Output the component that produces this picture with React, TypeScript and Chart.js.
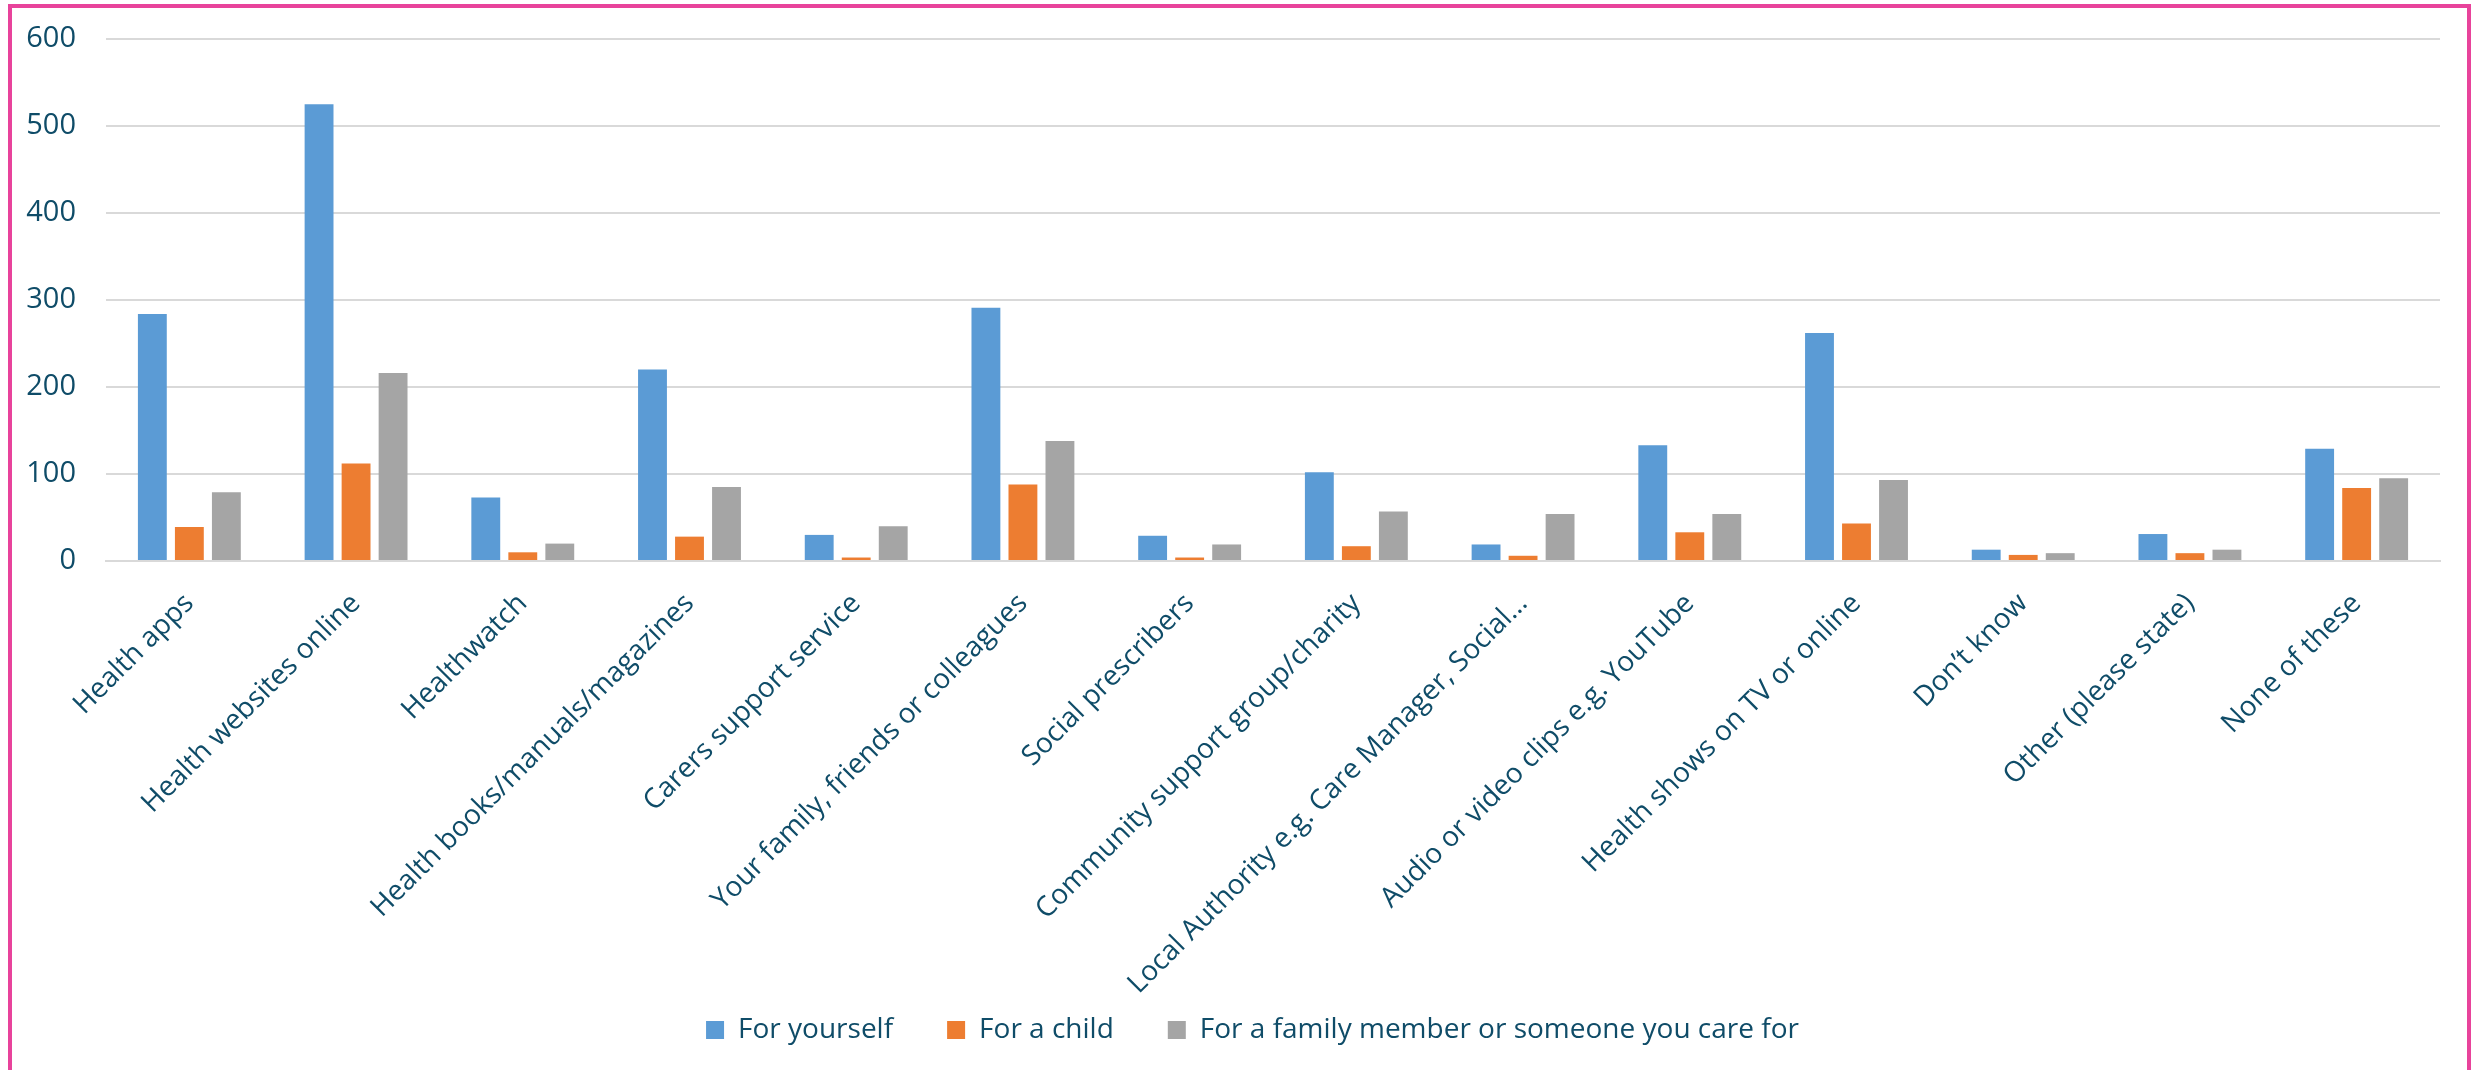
import React, { useEffect, useRef } from "react";
import { Chart, registerables } from "chart.js";

Chart.register(...registerables);

const categories = [
  "Health apps",
  "Health websites online",
  "Healthwatch",
  "Health books/manuals/magazines",
  "Carers support service",
  "Your family, friends or colleagues",
  "Social prescribers",
  "Community support group/charity",
  "Local Authority e.g. Care Manager, Social\u2026",
  "Audio or video clips e.g. YouTube",
  "Health shows on TV or online",
  "Don\u2019t know",
  "Other (please state)",
  "None of these",
];

const seriesNames = [
  "For yourself",
  "For a child",
  "For a family member or someone you care for",
];

const forYourself = [284, 525, 73, 220, 30, 291, 29, 102, 19, 133, 262, 13, 31, 129];
const forAChild = [39, 112, 10, 28, 4, 88, 4, 17, 6, 33, 43, 7, 9, 84];
const forFamilyMember = [79, 216, 20, 85, 40, 138, 19, 57, 54, 54, 93, 9, 13, 95];

const seriesColors = ["#5B9BD5", "#ED7D31", "#A5A5A5"];

const yMin = 0;
const yMax = 600;
const yStep = 100;

const TEXT = "#0f4c68";
const GRID = "#d9d9d9";

export default function App() {
  const ref = useRef<HTMLCanvasElement | null>(null);

  useEffect(() => {
    if (!ref.current) return;
    const chart = new Chart(ref.current, {
      type: "bar",
      data: {
        labels: categories,
        datasets: [forYourself, forAChild, forFamilyMember].map((d, i) => ({
          label: seriesNames[i],
          data: d,
          backgroundColor: seriesColors[i],
          categoryPercentage: 0.666,
          barPercentage: 0.78,
        })),
      },
      options: {
        animation: false,
        responsive: true,
        maintainAspectRatio: false,
        layout: { padding: { top: 39, right: 34, left: 65, bottom: 0 } },
        plugins: {
          tooltip: { enabled: false },
          legend: {
            position: "bottom",
            labels: {
              color: TEXT,
              font: { family: "'Open Sans', sans-serif", size: 28 },
              boxWidth: 18,
              boxHeight: 18,
              padding: 54,
            },
          },
        },
        scales: {
          x: {
            grid: { display: false, drawTicks: false },
            border: { display: true, color: GRID, width: 2 },
            ticks: {
              color: TEXT,
              font: { family: "'Open Sans', sans-serif", size: 28 },
              minRotation: 45,
              maxRotation: 45,
              autoSkip: false,
              padding: 26,
            },
            afterFit: (scale: any) => {
              scale.height = 401;
              scale._computeLabelArea = () => undefined;
            },
          },
          y: {
            min: yMin,
            max: yMax,
            grid: { color: GRID, lineWidth: 2, drawTicks: false },
            border: { display: false },
            ticks: {
              stepSize: yStep,
              color: TEXT,
              font: { family: "'Open Sans', sans-serif", size: 29 },
              padding: 30,
            },
            afterFit: (scale: any) => {
              scale.width = 41;
              scale.paddingTop = 0;
              scale.paddingBottom = 0;
              scale._computeLabelArea = () => undefined;
            },
          },
        },
      },
    });
    return () => chart.destroy();
  }, []);

  return (
    <>
      <div
        style={{
          position: "fixed",
          left: 8,
          top: 4,
          width: 2463,
          height: 1100,
          border: "4px solid #E8439B",
          boxSizing: "border-box",
        }}
      />
      <div style={{ position: "fixed", left: 0, top: 0, width: 2474, height: 1054 }}>
        <canvas ref={ref} />
      </div>
    </>
  );
}
